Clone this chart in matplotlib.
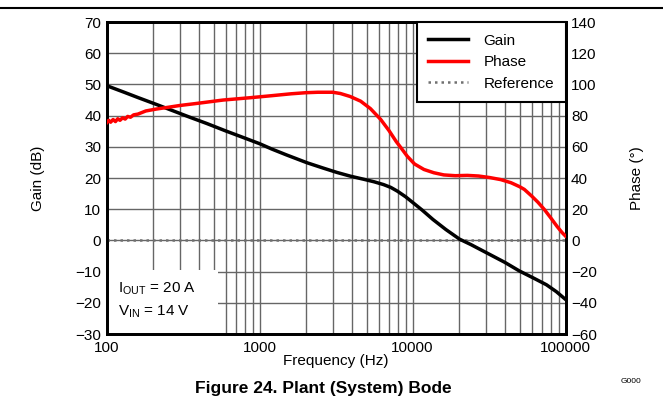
#!/usr/bin/env python3
"""Plant (system) Bode plot: gain and phase vs frequency."""

import matplotlib
matplotlib.use("Agg")
import matplotlib.pyplot as plt
from matplotlib.patches import Rectangle
from matplotlib.ticker import FixedLocator, LogLocator, NullFormatter

plt.rcParams['font.family'] = ['Liberation Sans', 'DejaVu Sans']
plt.rcParams['mathtext.fontset'] = 'custom'
plt.rcParams['mathtext.rm'] = 'Liberation Sans'
plt.rcParams['mathtext.it'] = 'Liberation Sans'
plt.rcParams['axes.unicode_minus'] = True

# Gain curve (Hz, dB)
gain_freq = [100, 130, 160, 211, 260, 349, 450, 600, 800, 1000, 1200, 1500,
             2040, 2600, 3200, 3920, 4800, 5600, 6460, 7200, 7950, 9000,
             10000, 11500, 13600, 16500, 20300, 24000, 30300, 40000, 50000,
             62000, 75000, 87000, 100000]
gain_db = [49.6, 47.5, 45.8, 43.6, 41.9, 39.5, 37.5, 35.1, 32.8, 31.0, 29.3,
           27.4, 24.9, 23.2, 21.8, 20.6, 19.6, 18.8, 17.9, 17.0, 15.8, 14.0,
           12.2, 9.8, 6.7, 3.5, 0.4, -1.3, -3.9, -7.0, -9.8, -12.1, -14.2,
           -16.4, -18.9]

# Phase curve (Hz, degrees)
phase_freq = [100, 103, 106, 110, 114, 118, 122, 127, 132, 137, 143, 150,
              160, 180, 210, 246, 300, 400, 576, 867, 1200, 1600, 2000, 2400,
              3000, 3370, 3900, 4570, 5300, 6180, 7000, 7800, 8600, 9220,
              10300, 11860, 13760, 16000, 19000, 22800, 27000, 32000, 37700,
              44000, 50000, 53800, 60000, 66000, 72600, 80000, 88000, 95000,
              100000]
phase_deg = [75.5, 77.0, 75.8, 77.5, 76.2, 78.0, 77.0, 78.6, 77.8, 79.5, 79.0,
             80.5, 81.0, 83.0, 84.2, 85.2, 86.5, 88.0, 90.0, 91.5, 92.8, 94.0,
             94.7, 95.0, 95.0, 94.2, 92.3, 89.3, 84.5, 77.6, 70.5, 63.5, 58.0,
             54.0, 49.0, 45.5, 43.4, 42.0, 41.5, 41.7, 41.3, 40.3, 39.0, 37.0,
             34.5, 32.7, 28.5, 24.5, 19.9, 14.5, 9.0, 5.0, 2.8]

ref_freq = [100, 100000]
ref_db = [0, 0]

x_ticks = [100, 1000, 10000, 100000]
x_labels = ['100', '1000', '10000', '100000']
gain_ticks = list(range(-30, 71, 10))
phase_ticks = list(range(-60, 141, 20))

fig = plt.figure(figsize=(6.63, 4.16), dpi=100)
ax = fig.add_axes([0.161, 0.197, 0.692, 0.750])

grid_col = '#666666'
ax.set_xscale('log')
ax.set_xlim(100, 100000)
ax.set_ylim(-30, 70)
ax.xaxis.set_major_locator(FixedLocator(x_ticks))
ax.set_xticklabels(x_labels)
ax.xaxis.set_minor_locator(LogLocator(base=10, subs=range(2, 10)))
ax.xaxis.set_minor_formatter(NullFormatter())
ax.set_yticks(gain_ticks)
ax.grid(True, which='major', color=grid_col, lw=1.0)
ax.grid(True, which='minor', axis='x', color=grid_col, lw=1.0)
ax.tick_params(which='both', length=0, labelsize=11, pad=4)
ax.tick_params(axis='x', pad=5)
for s in ax.spines.values():
    s.set_linewidth(2)
ax.set_axisbelow(True)

ax2 = ax.twinx()
ax2.set_ylim(-60, 140)
ax2.set_yticks(phase_ticks)
ax2.tick_params(length=0, labelsize=11, pad=4)
for s in ax2.spines.values():
    s.set_linewidth(2)

l_gain, = ax.plot(gain_freq, gain_db, color='black', lw=2.5, zorder=4, label='Gain')
l_ref, = ax.plot(ref_freq, ref_db, color='#707070', lw=1.8, ls=(0, (1, 1.6)),
                 zorder=3, label='Reference')
l_phase, = ax2.plot(phase_freq, phase_deg, color='#ff0000', lw=2.5, zorder=4,
                    label='Phase')

ax.set_xlabel('Frequency (Hz)', fontsize=11, labelpad=-1)
ax.set_ylabel('Gain (dB)', fontsize=11, labelpad=22)
ax2.set_ylabel('Phase (°)', fontsize=11, labelpad=24)

leg = ax2.legend([l_gain, l_phase, l_ref], ['Gain', 'Phase', 'Reference'],
                 loc='upper right', fontsize=11, frameon=True, fancybox=False,
                 borderaxespad=0, handlelength=2.6, handletextpad=1.0,
                 labelspacing=0.5, borderpad=0.75, framealpha=1)
leg.get_frame().set_edgecolor('black')
leg.get_frame().set_linewidth(1.5)

# condition box, lower left
ax.add_patch(Rectangle((0, 0), 0.242, 0.205, transform=ax.transAxes,
                       facecolor='white', edgecolor='none', zorder=2))
ax.text(0.025, 0.145, r'I$_{\mathrm{OUT}}$ = 20 A', transform=ax.transAxes,
        fontsize=11, va='center', ha='left', zorder=5)
ax.text(0.025, 0.072, r'V$_{\mathrm{IN}}$ = 14 V', transform=ax.transAxes,
        fontsize=11, va='center', ha='left', zorder=5)

fig.add_artist(plt.Line2D([0, 1], [0.981, 0.981], color='black', lw=1.5))
fig.text(0.952, 0.082, 'G000', fontsize=6, ha='center', va='center')
fig.text(0.487, 0.067, 'Figure 24. Plant (System) Bode', fontsize=12.5,
         fontweight='bold', ha='center', va='center')

fig.savefig('out.png', dpi=100)
